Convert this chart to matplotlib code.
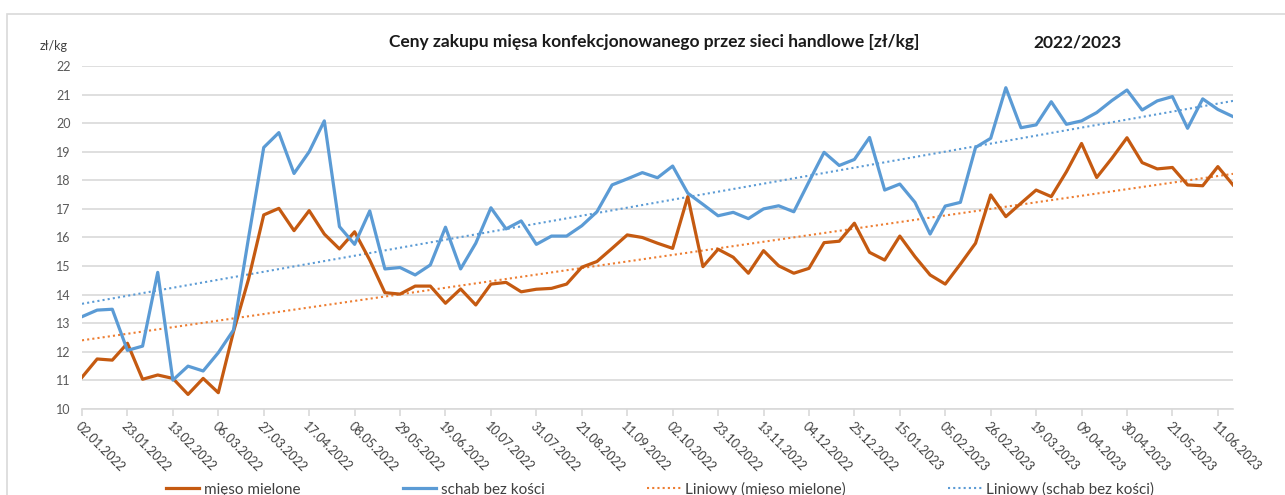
import numpy as np
import matplotlib
matplotlib.use("Agg")
import matplotlib.pyplot as plt
from matplotlib.patches import Rectangle

plt.rcParams['font.family'] = ['Lato', 'DejaVu Sans']

# weekly prices, 02.01.2022 - 18.06.2023
mieso_mielone = [
    11.11, 11.75, 11.71, 12.30, 11.04, 11.19, 11.07, 10.51, 11.07, 10.57,
    12.70, 14.55, 16.79, 17.02, 16.24, 16.94, 16.12, 15.60, 16.20, 15.21,
    14.07, 14.02, 14.30, 14.30, 13.70, 14.20, 13.64, 14.37, 14.43, 14.10,
    14.19, 14.22, 14.37, 14.96, 15.16, 15.62, 16.09, 16.00, 15.80, 15.62,
    17.43, 14.98, 15.59, 15.31, 14.75, 15.54, 15.01, 14.75, 14.92, 15.82,
    15.87, 16.50, 15.48, 15.21, 16.05, 15.33, 14.69, 14.37, 15.07, 15.80,
    17.49, 16.73, 17.20, 17.66, 17.43, 18.30, 19.29, 18.10, 18.77, 19.49,
    18.62, 18.40, 18.45, 17.84, 17.81, 18.48, 17.84,
]
schab_bez_kosci = [
    13.23, 13.46, 13.49, 12.05, 12.20, 14.78, 11.01, 11.50, 11.33, 11.97,
    12.76, 16.00, 19.15, 19.67, 18.24, 19.00, 20.08, 16.38, 15.76, 16.93,
    14.90, 14.95, 14.69, 15.04, 16.36, 14.90, 15.80, 17.04, 16.30, 16.58,
    15.76, 16.05, 16.05, 16.41, 16.90, 17.84, 18.05, 18.27, 18.09, 18.50,
    17.55, 17.16, 16.76, 16.88, 16.66, 17.00, 17.11, 16.90, 17.95, 18.98,
    18.52, 18.73, 19.50, 17.66, 17.87, 17.23, 16.12, 17.10, 17.23, 19.15,
    19.47, 21.24, 19.84, 19.94, 20.75, 19.96, 20.08, 20.37, 20.79, 21.16,
    20.46, 20.78, 20.93, 19.82, 20.85, 20.48, 20.23,
]
tick_labels = [
    "02.01.2022", "23.01.2022", "13.02.2022", "06.03.2022", "27.03.2022",
    "17.04.2022", "08.05.2022", "29.05.2022", "19.06.2022", "10.07.2022",
    "31.07.2022", "21.08.2022", "11.09.2022", "02.10.2022", "23.10.2022",
    "13.11.2022", "04.12.2022", "25.12.2022", "15.01.2023", "05.02.2023",
    "26.02.2023", "19.03.2023", "09.04.2023", "30.04.2023", "21.05.2023",
    "11.06.2023",
]

orange = "#C55A11"
blue = "#5B9BD5"
orange_trend = "#ED7D31"

x = np.arange(len(mieso_mielone))

fig = plt.figure(figsize=(12.85, 4.95), dpi=100)
fig.patches.append(Rectangle((7 / 1285, -0.1), 1.2, 1 - 14 / 495 + 0.1,
                             transform=fig.transFigure, fill=False,
                             edgecolor="#d9d9d9", lw=1.2))
ax = fig.add_axes([82 / 1285, 1 - 409 / 495, (1233 - 82) / 1285, (409 - 66) / 495])

l1, = ax.plot(x, mieso_mielone, color=orange, lw=2.3, label="mięso mielone", zorder=3)
l2, = ax.plot(x, schab_bez_kosci, color=blue, lw=2.3, label="schab bez kości", zorder=3)

# linear trendlines (Excel "Liniowy")
a1, b1 = np.polyfit(x, mieso_mielone, 1)
a2, b2 = np.polyfit(x, schab_bez_kosci, 1)
t1, = ax.plot(x, a1 * x + b1, color=orange_trend, lw=1.5, ls=(0, (1, 1.5)),
              label="Liniowy (mięso mielone)", zorder=2)
t2, = ax.plot(x, a2 * x + b2, color=blue, lw=1.5, ls=(0, (1, 1.5)),
              label="Liniowy (schab bez kości)", zorder=2)

ax.set_xlim(0, len(x) - 1)
ax.set_ylim(10, 22)
ax.set_yticks(range(10, 23))
ax.grid(axis="y", color="#d9d9d9", lw=1.2)
ax.set_axisbelow(True)
for s in ["top", "right", "left"]:
    ax.spines[s].set_visible(False)
ax.spines["bottom"].set_color("#d9d9d9")
ax.spines["bottom"].set_linewidth(1.2)
ax.tick_params(axis="y", length=0, labelsize=9, labelcolor="#595959", pad=8)
ax.set_xticks(x[::3])
ax.set_xticklabels(tick_labels, rotation=-45, ha="left", va="top",
                   rotation_mode="anchor", fontsize=9, color="#404040")
ax.tick_params(axis="x", length=5, color="#d9d9d9", width=1.2, pad=3)

fig.text(40 / 1285, 1 - 46 / 495, "zł/kg", fontsize=9, color="#404040", va="center")
fig.text(654 / 1285, 1 - 42 / 495,
         "Ceny zakupu mięsa konfekcjonowanego przez sieci handlowe [zł/kg]",
         fontsize=12.5, fontweight="bold", ha="center", va="center", color="#1a1a1a")
fig.text(1078 / 1285, 1 - 42 / 495, "2022/2023", fontsize=12.5, fontweight="bold",
         ha="center", va="center", color="#1a1a1a")

fig.legend(handles=[l1, l2, t1, t2], loc="center", ncol=4,
           bbox_to_anchor=(660 / 1285, 1 - 489 / 495), frameon=False, fontsize=11,
           handlelength=2.2, handletextpad=0.3, columnspacing=6.7, labelcolor="#404040")

fig.savefig("out.png", dpi=100)
